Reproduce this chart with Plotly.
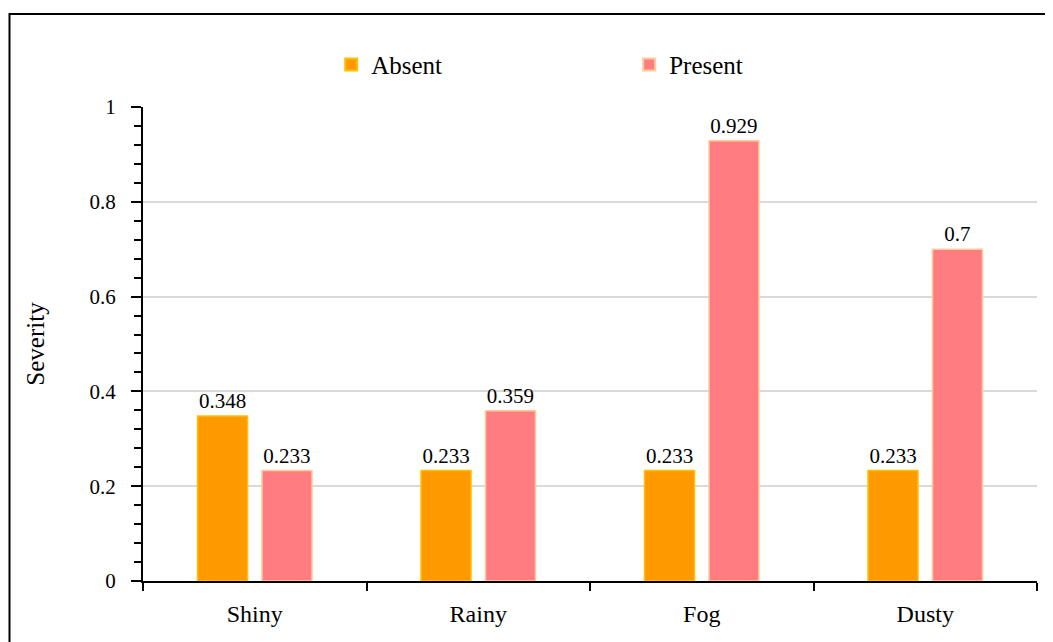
import plotly.graph_objects as go

categories = ["Shiny", "Rainy", "Fog", "Dusty"]
absent = [0.348, 0.233, 0.233, 0.233]
present = [0.233, 0.359, 0.929, 0.7]

FONT = "Liberation Serif"

fig = go.Figure()
fig.add_trace(go.Bar(
    x=categories, y=absent, name="Absent",
    marker=dict(color="#FF9900", line=dict(color="#FFC000", width=1.5)),
    text=[str(v) for v in absent], textposition="outside",
    textfont=dict(family=FONT, size=21, color="#000000"),
    cliponaxis=False,
))
fig.add_trace(go.Bar(
    x=categories, y=present, name="Present",
    marker=dict(color="#FF7C80", line=dict(color="#FFCC99", width=1.5)),
    text=[str(v) for v in present], textposition="outside",
    textfont=dict(family=FONT, size=21, color="#000000"),
    cliponaxis=False,
))

# page body has an 8px margin, so offsets compensate
fig.update_layout(
    width=1053, height=642,
    margin=dict(l=135, r=24, t=99, b=69),
    paper_bgcolor="white", plot_bgcolor="white",
    font=dict(family=FONT, size=21, color="#000000"),
    barmode="group", bargap=0.423, bargroupgap=0.225,
    showlegend=True,
    legend=dict(orientation="h", x=0.2105, y=1.089, xanchor="left", yanchor="middle",
                entrywidth=253, entrywidthmode="pixels",
                font=dict(family=FONT, size=25), itemsizing="constant",
                bgcolor="rgba(0,0,0,0)"),
)
fig.update_xaxes(
    type="category", tickson="boundaries", ticks="outside", ticklen=8, tickwidth=2,
    tickcolor="#000000", showline=True, linecolor="#000000", linewidth=2,
    showgrid=False, tickfont=dict(family=FONT, size=24), ticklabelstandoff=10,
)
fig.update_yaxes(
    range=[0, 1], dtick=0.2, ticks="outside", ticklen=10, tickwidth=2, tickcolor="#000000",
    showline=True, linecolor="#000000", linewidth=2,
    showgrid=True, gridcolor="#d9d9d9", gridwidth=1.5, zeroline=False,
    minor=dict(dtick=0.04, ticks="outside", ticklen=7, tickwidth=2, tickcolor="#000000", showgrid=False),
    tickfont=dict(family=FONT, size=21), ticklabelstandoff=11,
    title=dict(text="Severity", font=dict(family=FONT, size=25), standoff=38),
)
fig.add_shape(type="rect", xref="paper", yref="paper",
              x0=(9.5 - 143) / 894, x1=(1060 - 143) / 894,
              y0=(581 - 650) / 474, y1=(581 - 14) / 474,
              line=dict(color="#000000", width=2), fillcolor="rgba(0,0,0,0)", layer="above")

fig.write_html("out.html")
